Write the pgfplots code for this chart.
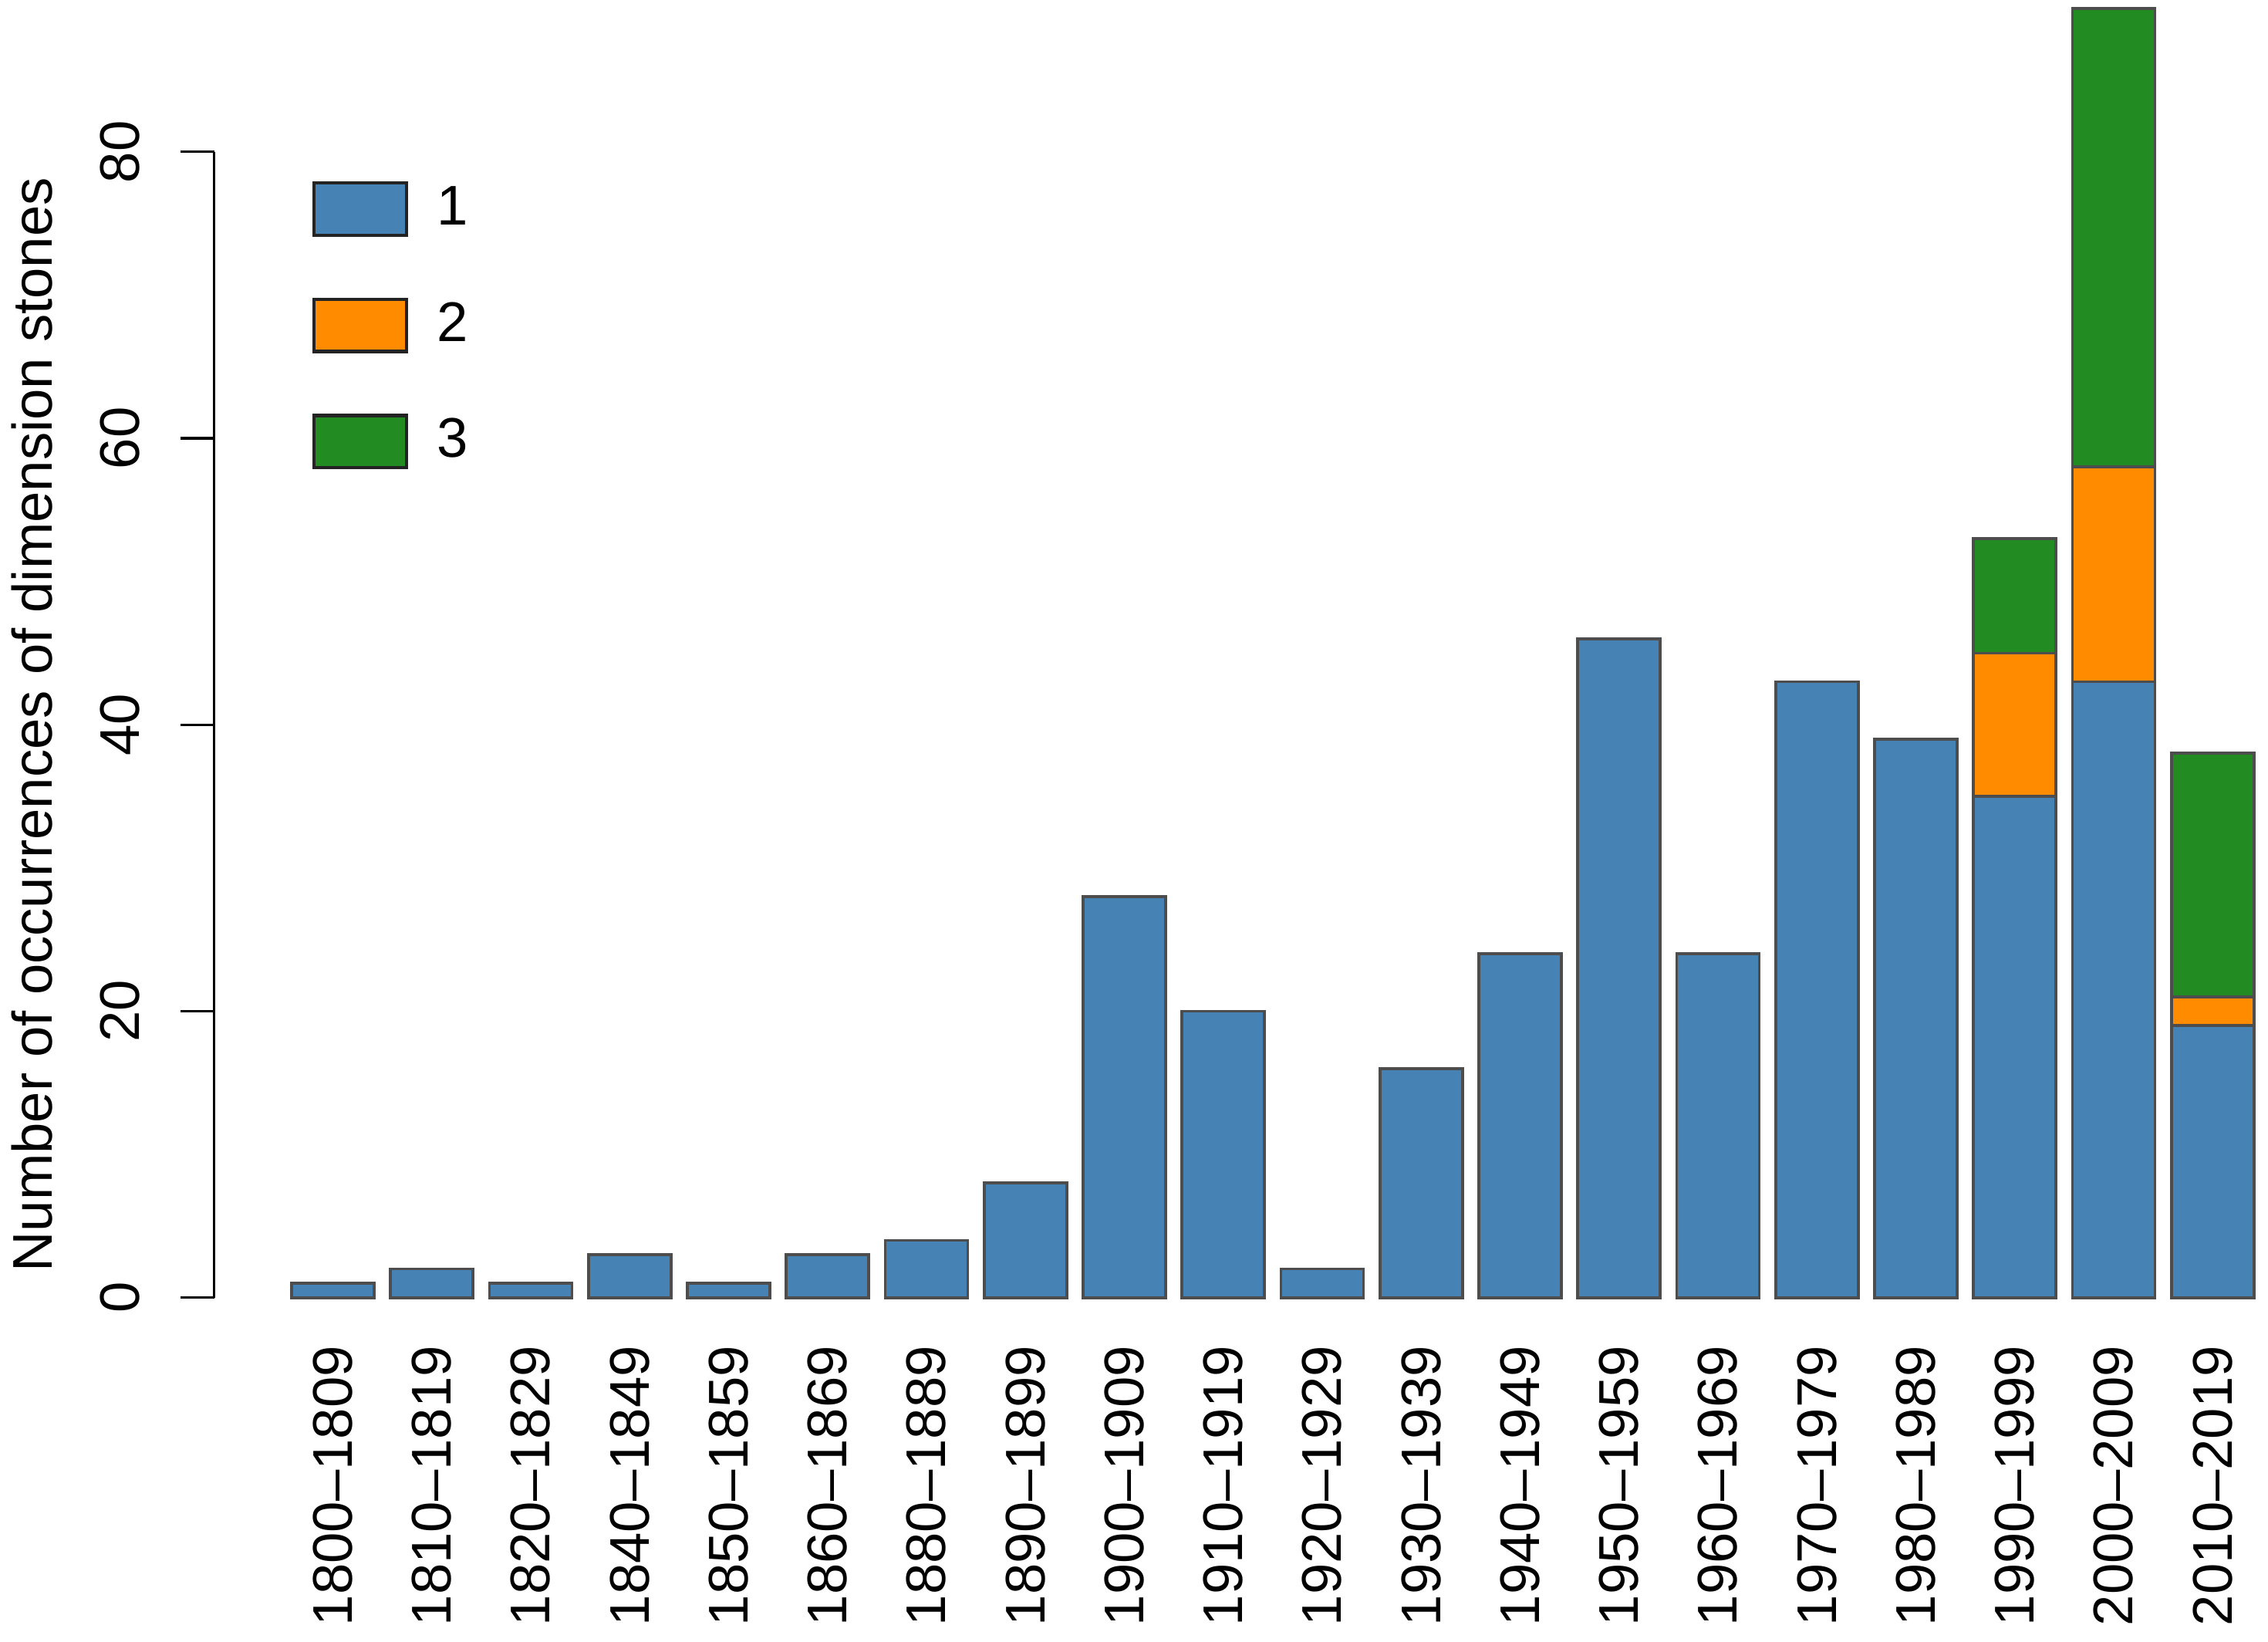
\documentclass[border=0pt]{standalone}
\usepackage{fontspec}
\setmainfont{Liberation Sans}
\usepackage{pgfplots}
\usepackage{pgfplotstable}
\pgfplotsset{compat=1.18}
\definecolor{c1}{RGB}{70,130,180}
\definecolor{c2}{RGB}{255,140,0}
\definecolor{c3}{RGB}{34,139,34}
\definecolor{edgecol}{RGB}{77,77,77}
\definecolor{legedge}{RGB}{35,35,35}
\pgfplotstableread{
x s1 s2 s3
0 1 0 0
1 2 0 0
2 1 0 0
3 3 0 0
4 1 0 0
5 3 0 0
6 4 0 0
7 8 0 0
8 28 0 0
9 20 0 0
10 2 0 0
11 16 0 0
12 24 0 0
13 46 0 0
14 24 0 0
15 43 0 0
16 39 0 0
17 35 10 8
18 43 15 32
19 19 2 17
}\datatable
\begin{document}
\begin{tikzpicture}[font=\fontsize{11.6}{13.9}\selectfont]
\begin{axis}[
  x=20.52pt, y=2.97pt,
  xmin=-1.2, xmax=19.56,
  ymin=-3.3, ymax=90.6,
  clip=false,
  axis lines=left,
  axis line style={draw=none},
  ybar stacked,
  bar width=17.1pt,
  xtick={0,...,19},
  xticklabels={1800–1809,1810–1819,1820–1829,1840–1849,1850–1859,1860–1869,1880–1889,1890–1899,1900–1909,1910–1919,1920–1929,1930–1939,1940–1949,1950–1959,1960–1969,1970–1979,1980–1989,1990–1999,2000–2009,2010–2019},
  ytick={0,20,40,60,80},
  /pgf/number format/assume math mode=true,
  tick align=outside,
  major tick length=7pt,
  xtick style={draw=none},
  ytick style={draw=black, line width=0.5pt},
  xticklabel style={rotate=90, anchor=east, inner sep=0pt, font=\fontsize{11.6}{13.9}\selectfont},
  xticklabel shift=-7pt,
  yticklabel style={rotate=90, anchor=south, inner sep=0pt, font=\fontsize{11.6}{13.9}\selectfont},
  yticklabel shift=8.3pt,
  ylabel={Number of occurrences of dimension stones},
  ylabel style={at={(axis cs:-3.04,40)}, anchor=center, inner sep=0pt, inner ysep=2.4pt, font=\fontsize{11.6}{13.9}\selectfont},
  legend style={draw=none, fill=none, at={(axis cs:-0.22,78.0)}, anchor=north west, row sep=12.6pt, column sep=6.0pt, inner sep=0pt, nodes={inner sep=0pt}, font=\fontsize{11.6}{13.9}\selectfont},
  legend cell align=left,
]
\addplot[fill=c1, draw=edgecol, line width=0.6pt, legend image code/.code={\draw[fill=c1, draw=legedge, line width=0.7pt] (0pt,-5.4pt) rectangle (19.2pt,5.4pt);}] table[x=x, y=s1] {\datatable};
\addplot[fill=c2, draw=edgecol, line width=0.6pt, legend image code/.code={\draw[fill=c2, draw=legedge, line width=0.7pt] (0pt,-5.4pt) rectangle (19.2pt,5.4pt);}] table[x=x, y=s2] {\datatable};
\addplot[fill=c3, draw=edgecol, line width=0.6pt, legend image code/.code={\draw[fill=c3, draw=legedge, line width=0.7pt] (0pt,-5.4pt) rectangle (19.2pt,5.4pt);}] table[x=x, y=s3] {\datatable};
\legend{1,2,3}
\draw[line width=0.5pt] (axis cs:-1.2,0) -- (axis cs:-1.2,80);
\end{axis}
\path (current bounding box.south) ++(0,-3.3pt);
\end{tikzpicture}
\end{document}
